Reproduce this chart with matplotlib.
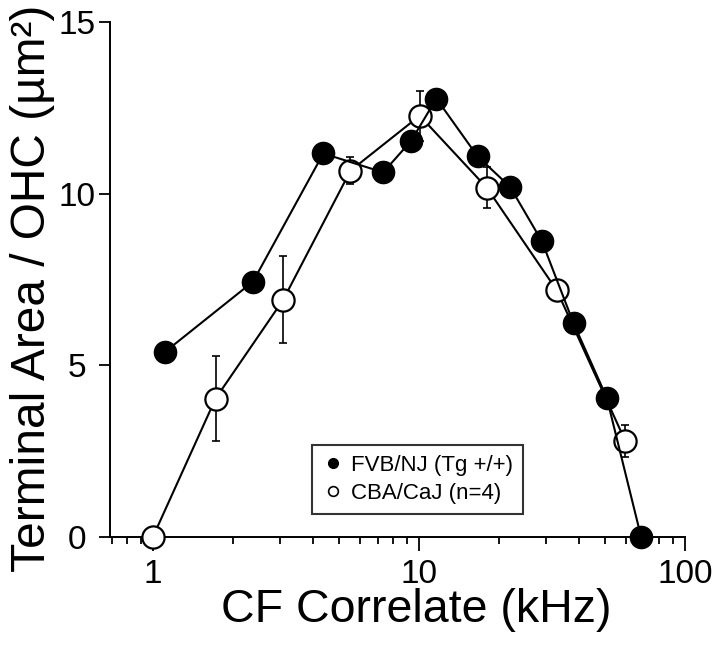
import matplotlib
matplotlib.use("Agg")
import matplotlib.pyplot as plt
from matplotlib.lines import Line2D
from matplotlib.ticker import FixedLocator, NullFormatter

plt.rcParams['font.family'] = ['Liberation Sans', 'DejaVu Sans']

# FVB/NJ (Tg +/+)  -- filled circles
fvb_freq = [1.11, 2.38, 4.37, 7.34, 9.35, 11.63, 16.6, 22.0, 29.0, 38.1, 50.8, 68.4]
fvb_area = [5.39, 7.44, 11.17, 10.62, 11.54, 12.77, 11.09, 10.20, 8.61, 6.23, 4.06, 0.0]

# CBA/CaJ (n=4) -- open circles with error bars
cba_freq = [1.0, 1.72, 3.09, 5.53, 10.07, 18.0, 33.0, 59.6]
cba_area = [0.0, 4.03, 6.91, 10.67, 12.27, 10.17, 7.18, 2.80]
cba_err = [0.0, 1.24, 1.27, 0.40, 0.73, 0.60, 0.25, 0.47]

x_major = [1, 10, 100]
x_major_labels = ["1", "10", "100"]
y_ticks = [0, 5, 10, 15]

fig = plt.figure(figsize=(7.2, 6.45), dpi=100)
ax = fig.add_axes([110/720, 1-537/645, 575/720, 515/645])

lw = 1.5
ax.errorbar(cba_freq, cba_area, yerr=cba_err, fmt='none', ecolor='black',
            elinewidth=1.2, capsize=3, capthick=1.2, zorder=2, clip_on=False)
ax.plot(cba_freq, cba_area, '-', color='black', lw=lw, marker='o', ms=16,
        mfc='white', mec='black', mew=1.6, zorder=3, clip_on=False)
ax.plot(fvb_freq, fvb_area, '-', color='black', lw=lw, marker='o', ms=16,
        mfc='black', mec='black', zorder=4, clip_on=False)

ax.set_xscale('log')
ax.set_xlim(0.69, 100)
ax.set_ylim(0, 15)

ax.xaxis.set_major_locator(FixedLocator(x_major))
ax.set_xticklabels(x_major_labels)
minor = [0.7, 0.8, 0.9] + list(range(2, 10)) + list(range(20, 100, 10))
ax.xaxis.set_minor_locator(FixedLocator(minor))
ax.xaxis.set_minor_formatter(NullFormatter())
ax.set_yticks(y_ticks)
ax.set_yticklabels([str(v) for v in y_ticks])

for s in ['top', 'right']:
    ax.spines[s].set_visible(False)
for s in ['left', 'bottom']:
    ax.spines[s].set_linewidth(1.4)

ax.tick_params(axis='x', which='major', direction='out', length=10, width=1.3,
               labelsize=24, pad=6)
ax.tick_params(axis='x', which='minor', direction='out', length=5, width=1.3)
ax.tick_params(axis='y', which='major', direction='out', length=8, width=1.3,
               labelsize=24, pad=16)
for lab in ax.get_yticklabels():
    lab.set_horizontalalignment('center')

ax.set_xlabel("CF Correlate (kHz)", fontsize=33.5)
ax.xaxis.set_label_coords(0.532, -0.10)
ax.set_ylabel("Terminal Area / OHC (µm²)", fontsize=34.5)
ax.yaxis.set_label_coords(-0.096, 0.483)

handles = [
    Line2D([], [], linestyle='none', marker='o', ms=7, mfc='black', mec='black'),
    Line2D([], [], linestyle='none', marker='o', ms=7, mfc='white', mec='black', mew=1.2),
]
leg = ax.legend(handles, ["FVB/NJ (Tg +/+)", "CBA/CaJ (n=4)"], loc='lower left',
                bbox_to_anchor=(0.351, 0.045), borderaxespad=0, fontsize=16,
                frameon=True, fancybox=False, edgecolor='black',
                handlelength=1.0, handletextpad=0.3, borderpad=0.45,
                labelspacing=0.3)
leg.get_frame().set_linewidth(1.5)

fig.savefig("out.png", dpi=100, facecolor='white')
